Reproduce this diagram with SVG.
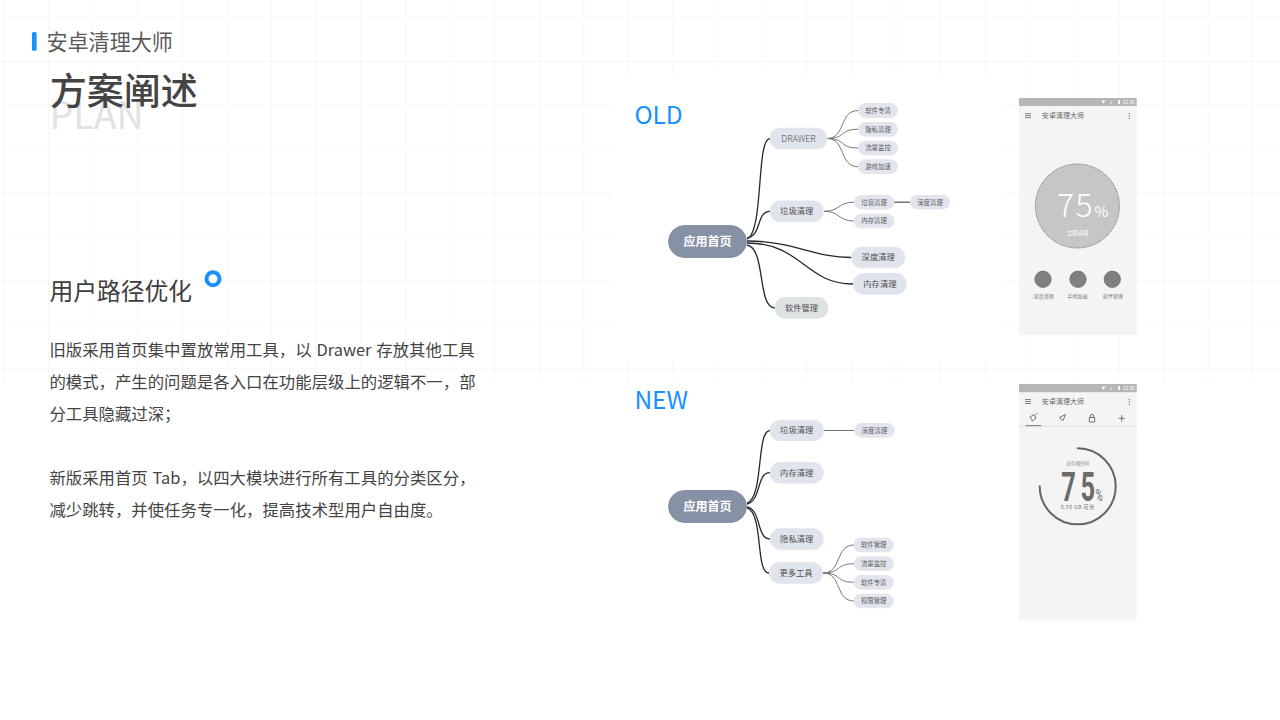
<svg xmlns="http://www.w3.org/2000/svg" width="1280" height="720" viewBox="0 0 1280 720">
<style>
text{font-family:"Noto Sans CJK SC","Noto Sans",sans-serif}
.grid{stroke:#f7f7f7;stroke-width:1.1;fill:none}
.root{fill:#8791a6;stroke:#7b859b;stroke-width:.8}
.n1{fill:#e0e4ec}
.n1g{fill:#dde3e3}
.n2{fill:#e2e5ee}
.rt{fill:#fff;font-size:12px;font-weight:700;text-anchor:middle}
.t1{fill:#4d4d4d;font-size:8.3px;text-anchor:middle}
.t2{fill:#5c5c5c;font-size:6.4px;text-anchor:middle}
.c1{fill:none;stroke:#23272e;stroke-width:1.3}
.c2{fill:none;stroke:#777;stroke-width:1}
.h{fill:#1890ff;font-size:24.500px}
.body{fill:#444;font-size:16.4px;word-spacing:1.200px}
.scr{fill:#f4f4f4}
.bar{fill:#b6b6b6}
.ico{fill:none;stroke:#666;stroke-width:.9}
.ptl{fill:#666;font-size:7px;letter-spacing:.05px;text-anchor:middle}
.pl{fill:#777;font-size:5.1px;text-anchor:middle}
</style>
<rect width="1280" height="720" fill="#fff"/>
<g id="grid">
<path class="grid" d="M4 0V382M48.600 0V382M93.200 0V382M137.800 0V382M182.400 0V382M227 0V382M271.600 0V382M316.200 0V382M360.800 0V382M405.400 0V382M450 0V382M494.600 0V382M539.200 0V382M583.800 0V382M628.400 0V382M673 0V382M717.600 0V382M762.200 0V382M806.800 0V382M851.400 0V382M896 0V382M940.600 0V382M985.200 0V382M1029.800 0V382M1074.400 0V382M1119 0V382M1163.600 0V382M1208.200 0V382M1252.800 0V382M0 17.500H1280M0 61.400H1280M0 105.300H1280M0 149.200H1280M0 193.100H1280M0 237H1280M0 280.900H1280M0 324.800H1280M0 368.700H1280"/>
<rect x="613" y="74" width="392" height="285" fill="#fff"/>
</g>
<g id="heading">
<rect x="32" y="32" width="4.600" height="18.700" rx="1.500" fill="#1890ff"/>
<text x="46.400" y="50" font-size="21.100" fill="#5a5a5a">安卓清理大师</text>
<text x="49.500" y="129" font-size="37.500" fill="#e2e2e2">PLAN</text>
<text x="49.700" y="105" font-size="37" font-weight="500" fill="#444">方案阐述</text>
</g>
<g id="copy">
<text x="49.400" y="300" font-size="23.800" fill="#3e3e3e">用户路径优化</text>
<circle cx="213" cy="278.700" r="6.500" fill="#fff" stroke="#1890ff" stroke-width="4"/>
<text class="body" x="49.400" y="355.500">旧版采用首页集中置放常用工具，以 Drawer 存放其他工具</text>
<text class="body" x="49.400" y="387.500">的模式，产生的问题是各入口在功能层级上的逻辑不一，部</text>
<text class="body" x="49.400" y="419.500">分工具隐藏过深；</text>
<text class="body" x="49.400" y="483.500">新版采用首页 Tab，以四大模块进行所有工具的分类区分，</text>
<text class="body" x="49.400" y="515.500">减少跳转，并使任务专一化，提高技术型用户自由度。</text>
<text class="h" x="634.400" y="124">OLD</text>
<text class="h" x="634.400" y="408.600">NEW</text>
</g>
<g id="connectors">
<path class="c1" d="M747 239C764 232 756 138.500 770 138.500"/>
<path class="c1" d="M747 238C762 236 756 211.300 770 211.300"/>
<path class="c1" d="M747 241C795 241 812 257.500 851.500 257.500"/>
<path class="c1" d="M747 243C802 243 805 284 853 284"/>
<path class="c1" d="M747 245C766 248 757 308 775 308"/>
<path class="c2" d="M827 138.500C846 138.500 839 110.500 858 110.500"/>
<path class="c2" d="M827 138.500C846 138.500 839 129.300 858 129.300"/>
<path class="c2" d="M827 138.500C846 138.500 839 148 858 148"/>
<path class="c2" d="M827 138.500C846 138.500 839 166.700 858 166.700"/>
<path class="c2" d="M824 211.300C840 211.300 838 202.200 854 202.200"/>
<path class="c2" d="M824 211.300C840 211.300 838 221 854 221"/>
<path class="c2" d="M894 202.200H910" style="stroke-width:1.500"/>
<path class="c1" d="M747 503C764 498 756 430.500 770 430.500"/>
<path class="c1" d="M747 504C762 500 756 472.700 770 472.700"/>
<path class="c1" d="M747 507C762 510 756 539 770 539"/>
<path class="c1" d="M747 508C764 514 755 573 769 573"/>
<path class="c2" d="M824 430.500H854"/>
<path class="c2" d="M823 573C842 573 835 545 854 545"/>
<path class="c2" d="M823 573C842 573 835 563.700 854 563.700"/>
<path class="c2" d="M823 573C842 573 835 582.300 854 582.300"/>
<path class="c2" d="M823 573C842 573 835 601 854 601"/>
</g>
<g id="old-root"><rect class="root" x="668.500" y="225.500" width="78" height="32" rx="16"/><text class="rt" x="707.500" y="245.500">应用首页</text></g>
<g id="old-drawer"><rect class="n1" x="769.700" y="127.700" width="57.600" height="21.600" rx="10.800"/><text class="t1" x="798.500" y="141.500" style="font-size:8.800px;font-weight:300">DRAWER</text></g>
<g id="old-clean"><rect class="n1" x="769.700" y="200.600" width="54" height="21.500" rx="10.700"/><text class="t1" x="796.700" y="214.300">垃圾清理</text></g>
<g id="old-deep"><rect class="n1" x="851.300" y="246.700" width="53.700" height="21.600" rx="10.800"/><text class="t1" x="878.200" y="260.400">深度清理</text></g>
<g id="old-mem"><rect class="n1" x="853" y="273" width="53.700" height="21.700" rx="10.800"/><text class="t1" x="879.900" y="286.800">内存清理</text></g>
<g id="old-soft"><rect class="n1g" x="774.700" y="297" width="53.700" height="21.700" rx="10.800"/><text class="t1" x="801.500" y="310.800">软件管理</text></g>
<g id="old-d1"><rect class="n2" x="858" y="103" width="40" height="15" rx="7.500"/><text class="t2" x="878" y="112.800">软件专清</text></g>
<g id="old-d2"><rect class="n2" x="858" y="122" width="40" height="14.700" rx="7.300"/><text class="t2" x="878" y="131.600">隐私清理</text></g>
<g id="old-d3"><rect class="n2" x="858" y="140.700" width="40" height="14.700" rx="7.300"/><text class="t2" x="878" y="150.300">流量监控</text></g>
<g id="old-d4"><rect class="n2" x="858" y="159.300" width="40" height="14.700" rx="7.300"/><text class="t2" x="878" y="168.900">游戏加速</text></g>
<g id="old-c1"><rect class="n2" x="854" y="195" width="40.300" height="14.400" rx="7.200"/><text class="t2" x="874.100" y="204.500">垃圾清理</text></g>
<g id="old-c2"><rect class="n2" x="854" y="213.700" width="40.300" height="14.600" rx="7.300"/><text class="t2" x="874.100" y="223.300">内存清理</text></g>
<g id="old-c3"><rect class="n2" x="910" y="195" width="40" height="14.400" rx="7.200"/><text class="t2" x="930" y="204.500">深度清理</text></g>
<g id="new-root"><rect class="root" x="668.500" y="490.500" width="78" height="32" rx="16"/><text class="rt" x="707.500" y="510.500">应用首页</text></g>
<g id="new-clean"><rect class="n1" x="769.700" y="419.700" width="54" height="21.400" rx="10.700"/><text class="t1" x="796.700" y="433.400">垃圾清理</text></g>
<g id="new-mem"><rect class="n1" x="769.700" y="462" width="54" height="21.400" rx="10.700"/><text class="t1" x="796.700" y="475.700">内存清理</text></g>
<g id="new-priv"><rect class="n1" x="769.700" y="528.300" width="54" height="21.400" rx="10.700"/><text class="t1" x="796.700" y="542">隐私清理</text></g>
<g id="new-more"><rect class="n1" x="769" y="562.300" width="54" height="21.400" rx="10.700"/><text class="t1" x="796" y="576">更多工具</text></g>
<g id="new-c1"><rect class="n2" x="854.300" y="423" width="40.400" height="14.700" rx="7.300"/><text class="t2" x="874.500" y="432.600">深度清理</text></g>
<g id="new-m1"><rect class="n2" x="853.700" y="537.700" width="40" height="14.600" rx="7.300"/><text class="t2" x="873.700" y="547.300">软件管理</text></g>
<g id="new-m2"><rect class="n2" x="853.700" y="556.300" width="40" height="14.700" rx="7.300"/><text class="t2" x="873.700" y="565.900">流量监控</text></g>
<g id="new-m3"><rect class="n2" x="853.700" y="575" width="40" height="14.700" rx="7.300"/><text class="t2" x="873.700" y="584.600">软件专清</text></g>
<g id="new-m4"><rect class="n2" x="853.700" y="593.700" width="40" height="14.600" rx="7.300"/><text class="t2" x="873.700" y="603.300">权限管理</text></g>
<g id="phone-old">
<rect class="scr" x="1019" y="98" width="117.700" height="237"/>
<rect class="bar" x="1019" y="98" width="117.700" height="8"/>
<path d="M1101.500 100.500h4l-2 3.500z" fill="#fff"/><path d="M1109 103.800l3-3v3z" fill="#ddd"/><rect x="1118" y="100.300" width="2" height="3.600" fill="#fff"/>
<text x="1123" y="104" font-size="4.600" fill="#fff" style="font-family:'Liberation Sans',sans-serif">12:30</text>
<path d="M1025 113.700h6M1025 115.700h6M1025 117.700h6" stroke="#666" stroke-width=".8"/>
<text class="ptl" x="1063" y="118.200">安卓清理大师</text>
<path d="M1129.300 113v1.100M1129.300 115.300v1.100M1129.300 117.600v1.100" stroke="#555" stroke-width="1"/>
<circle cx="1077.400" cy="206" r="42" fill="#c6c6c6" stroke="#555" stroke-width=".8" stroke-dasharray="1 .7"/>
<text x="1057" y="216.700" font-size="32" font-weight="300" fill="#fff" letter-spacing="1.500">75</text>
<text x="1094.500" y="217" font-size="15" fill="#fff">%</text>
<text class="pl" x="1077.500" y="234.600" style="fill:#fff;font-size:5.400px">立即清理</text>
<circle cx="1043" cy="279.300" r="8.200" fill="#808080" stroke="#666" stroke-width=".7"/>
<circle cx="1078" cy="279.300" r="8.200" fill="#808080" stroke="#666" stroke-width=".7"/>
<circle cx="1112.300" cy="279.300" r="8.200" fill="#808080" stroke="#666" stroke-width=".7"/>
<text class="pl" x="1043.500" y="297.500">深度清理</text>
<text class="pl" x="1077.500" y="297.500">手机加速</text>
<text class="pl" x="1113" y="297.500">软件管理</text>
</g>
<g id="phone-new">
<rect class="scr" x="1019" y="384" width="117.700" height="236.500"/>
<rect class="bar" x="1019" y="384" width="117.700" height="8.200"/>
<path d="M1101.500 386.500h4l-2 3.500z" fill="#fff"/><path d="M1109 389.800l3-3v3z" fill="#ddd"/><rect x="1118" y="386.300" width="2" height="3.600" fill="#fff"/>
<text x="1123" y="390" font-size="4.600" fill="#fff" style="font-family:'Liberation Sans',sans-serif">12:30</text>
<path d="M1025 399.500h6M1025 401.500h6M1025 403.500h6" stroke="#666" stroke-width=".8"/>
<text class="ptl" x="1063" y="404.200">安卓清理大师</text>
<path d="M1129.300 399v1.100M1129.300 401.300v1.100M1129.300 403.600v1.100" stroke="#555" stroke-width="1"/>
<rect x="1019" y="425" width="117.700" height="2.300" fill="#ebebeb"/>
<rect x="1025.700" y="425" width="15.600" height="1.200" fill="#888"/>
<path class="ico" d="M1030 417l4-2.500 2 3.500-3.500 3zM1036 414.500l1.500-1.500"/>
<path class="ico" d="M1059.500 417.500l6-3-2.500 6-1.500-1.500zM1060 420.500l1-1"/>
<path class="ico" d="M1089.300 417.500h5.400v4.500h-5.400zM1090.300 417.500v-1.500a1.700 1.700 0 0 1 3.400 0v1.500"/>
<path class="ico" d="M1118.500 418.300h6.400M1121.700 415.100v6.400"/>
<path d="M1077.700 448.300A38 38 0 1 1 1039.700 486.300" fill="none" stroke="#666" stroke-width="2" stroke-linecap="round"/>
<text class="pl" x="1077.700" y="464.700" style="font-size:4.600px;fill:#888">总存储空间</text>
<text transform="translate(1061.300 500.700) scale(.62 1)" font-size="41" font-weight="700" fill="#6a6a6a" letter-spacing="7.600" style="font-family:Roboto,sans-serif">75</text>
<text x="1095.800" y="500.700" font-size="17" fill="#6a6a6a" textLength="6.800" lengthAdjust="spacingAndGlyphs" style="font-family:Roboto,sans-serif">%</text>
<text class="pl" x="1077.700" y="509.200" style="font-size:5.300px;letter-spacing:.35px">8.98 GB 可用</text>
</g>
</svg>
